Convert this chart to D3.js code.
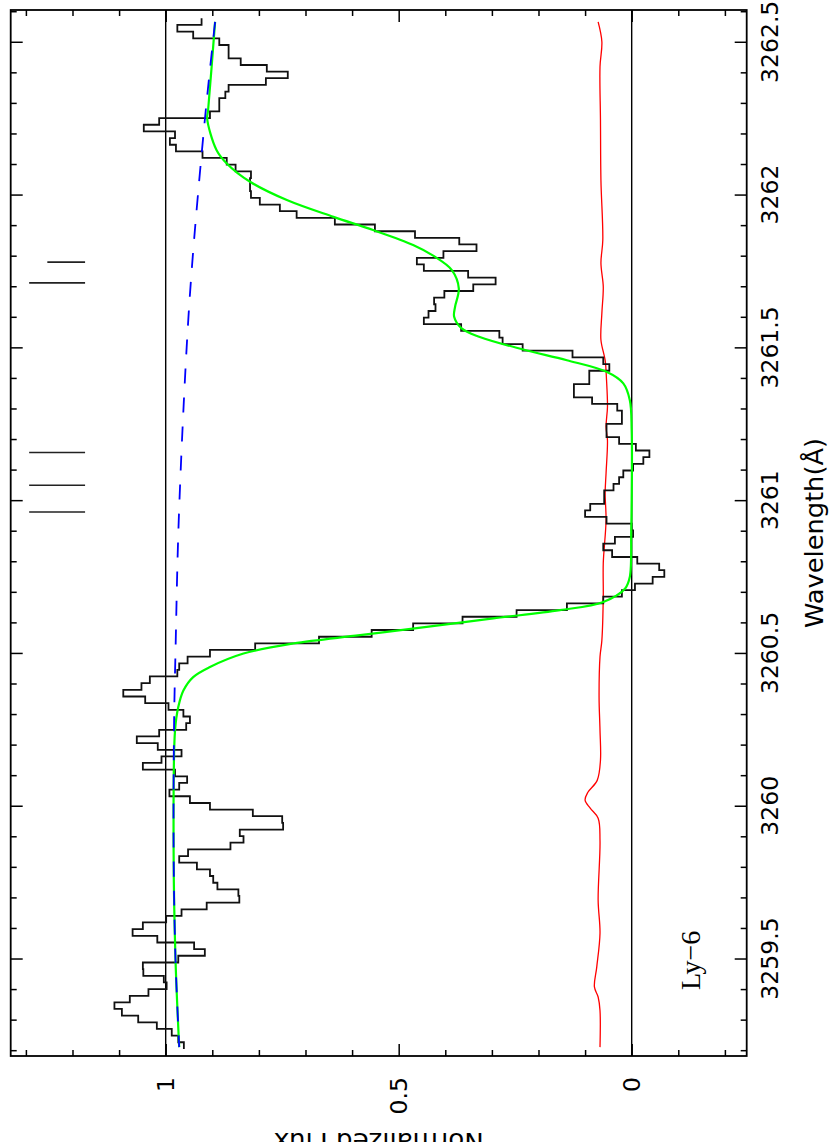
<!DOCTYPE html>
<html><head><meta charset="utf-8">
<script src="https://cdn.jsdelivr.net/npm/d3@7/dist/d3.min.js"></script>
<style>body{margin:0;background:#fff}svg{display:block}</style>
</head><body><svg id="c" width="830" height="1142"></svg>
<script>
// ---- data (wavelength in Angstrom, normalized flux) ----
const wavelength = [3262.566,3262.544,3262.522,3262.500,3262.479,3262.457,3262.435,3262.413,3262.392,3262.370,
3262.348,3262.326,3262.305,3262.283,3262.261,3262.239,3262.218,3262.196,3262.174,3262.152,
3262.131,3262.109,3262.087,3262.065,3262.043,3262.022,3262.000,3261.978,3261.956,3261.935,
3261.913,3261.891,3261.869,3261.848,3261.826,3261.804,3261.782,3261.761,3261.739,3261.717,
3261.695,3261.674,3261.652,3261.630,3261.608,3261.587,3261.565,3261.543,3261.521,3261.500,
3261.478,3261.456,3261.434,3261.413,3261.391,3261.369,3261.347,3261.326,3261.304,3261.282,
3261.260,3261.239,3261.217,3261.195,3261.173,3261.152,3261.130,3261.108,3261.086,3261.064,
3261.043,3261.021,3260.999,3260.977,3260.956,3260.934,3260.912,3260.890,3260.869,3260.847,
3260.825,3260.803,3260.782,3260.760,3260.738,3260.716,3260.695,3260.673,3260.651,3260.629,
3260.608,3260.586,3260.564,3260.542,3260.521,3260.499,3260.477,3260.455,3260.434,3260.412,
3260.390,3260.368,3260.347,3260.325,3260.303,3260.281,3260.259,3260.238,3260.216,3260.194,
3260.172,3260.151,3260.129,3260.107,3260.085,3260.064,3260.042,3260.020,3259.998,3259.977,
3259.955,3259.933,3259.911,3259.890,3259.868,3259.846,3259.824,3259.803,3259.781,3259.759,
3259.737,3259.716,3259.694,3259.672,3259.650,3259.629,3259.607,3259.585,3259.563,3259.542,
3259.520,3259.498,3259.476,3259.454,3259.433,3259.411,3259.389,3259.367,3259.346,3259.324,
3259.302,3259.280,3259.259,3259.237,3259.215];
const flux = [0.923,0.975,0.941,0.885,0.865,0.865,0.839,0.783,0.738,0.785,
0.865,0.872,0.885,0.885,0.905,1.014,1.047,0.980,0.991,0.978,
0.921,0.869,0.850,0.817,0.819,0.819,0.817,0.798,0.755,0.719,
0.637,0.551,0.465,0.370,0.333,0.404,0.461,0.446,0.351,0.292,
0.340,0.402,0.424,0.421,0.436,0.446,0.366,0.284,0.277,0.234,
0.127,0.061,0.048,0.091,0.091,0.124,0.124,0.085,0.031,0.021,
0.021,0.054,0.054,0.027,-0.009,-0.038,-0.025,-0.003,0.018,0.027,
0.039,0.059,0.059,0.089,0.100,0.054,0.000,-0.003,0.036,0.061,
0.042,-0.012,-0.059,-0.070,-0.045,-0.007,0.021,0.061,0.139,0.247,
0.363,0.469,0.558,0.671,0.808,0.905,0.953,0.971,0.975,1.034,
1.052,1.091,1.044,0.994,0.962,0.948,0.956,1.014,1.062,1.017,
0.966,1.009,1.049,0.980,0.954,0.971,0.992,0.948,0.905,0.813,
0.750,0.748,0.841,0.833,0.861,0.952,0.971,0.933,0.905,0.898,
0.889,0.844,0.842,0.912,0.966,0.999,1.049,1.071,1.018,0.939,
0.916,0.973,1.049,1.048,1.004,0.998,1.037,1.077,1.110,1.094,
1.059,1.019,0.987,0.973,0.961];

const errWave = [3262.565,3262.500,3262.418,3262.244,3262.047,3261.851,3261.776,3261.698,3261.612,3261.524,
3261.458,3261.393,3261.305,3261.240,3261.196,3261.088,3261.023,3260.934,3260.794,3260.683,
3260.541,3260.487,3260.356,3260.247,3260.149,3260.083,3260.044,3260.018,3259.992,3259.959,
3259.887,3259.691,3259.583,3259.472,3259.407,3259.374,3259.330,3259.210];
const errFlux = [0.072,0.064,0.068,0.067,0.066,0.062,0.066,0.061,0.064,0.066,
0.057,0.054,0.052,0.055,0.052,0.055,0.057,0.055,0.061,0.061,
0.064,0.068,0.070,0.068,0.067,0.074,0.094,0.100,0.089,0.072,
0.068,0.072,0.068,0.075,0.080,0.072,0.068,0.068];

const contWave = [3262.565,3262.276,3261.796,3261.500,3260.934,3260.500,3260.270,3259.850,3259.500,3259.210];
const contFlux = [0.894,0.914,0.942,0.955,0.972,0.979,0.982,0.983,0.979,0.971];

const fitWave = [3262.565,3262.276,3262.249,3262.146,3262.102,3262.042,3261.982,3261.927,3261.884,3261.835,
3261.800,3261.753,3261.693,3261.633,3261.600,3261.562,3261.534,3261.493,3261.458,3261.420,
3261.382,3261.327,3261.229,3260.999,3260.901,3260.749,3260.711,3260.667,3260.640,3260.613,
3260.585,3260.558,3260.531,3260.498,3260.454,3260.421,3260.377,3260.323,3260.246,3259.850,
3259.500,3259.210];
const fitFlux = [0.894,0.909,0.911,0.891,0.869,0.819,0.740,0.640,0.555,0.469,
0.426,0.386,0.371,0.379,0.381,0.365,0.326,0.233,0.139,0.054,
0.018,0.004,0.000,0.000,0.001,0.004,0.014,0.061,0.154,0.297,
0.440,0.583,0.726,0.833,0.905,0.941,0.962,0.973,0.980,0.983,
0.979,0.971];

const markWave = [3261.779,3261.711,3261.156,3261.049,3260.961];
const markTop = [1.254,1.293,1.293,1.293,1.293];
const markBottom = [1.173,1.173,1.173,1.173,1.173];

const fluxTickValues = [1, 0.5, 0];
const fluxTickLabels = ["1", "0.5", "0"];
const waveTickValues = [3259.5,3260,3260.5,3261,3261.5,3262,3262.5];
const waveTickLabels = ["3259.5","3260","3260.5","3261","3261.5","3262","3262.5"];
const refLevels = [1, 0];

// ---- drawing ----
const svg = d3.select("#c");
svg.append("rect").attr("width",830).attr("height",1142).attr("fill","#fff");
const L = 10.7, R = 746.7, T = 10, B = 1056;
const x = d3.scaleLinear().domain([1.3326,-0.2468]).range([L,R]);
const y = d3.scaleLinear().domain([3262.604,3259.181]).range([T,B]);
const sans = "'DejaVu Sans', 'Liberation Sans', sans-serif";

const fluxMinor = d3.range(-2,14).map(d=>d/10).filter(v=>!fluxTickValues.some(m=>Math.abs(m-v)<1e-6));
const waveMinor = d3.range(32592,32627).map(d=>d/10).filter(v=>v>=3259.19 && v<=3262.6 && !waveTickValues.some(m=>Math.abs(m-v)<1e-6));

function axisG(gen, tx, ty){
  const g = svg.append("g").attr("transform",`translate(${tx},${ty})`).call(gen);
  g.select(".domain").remove();
  g.selectAll("line").attr("stroke","#000").attr("stroke-width",1.5);
  g.selectAll("text").remove();
  return g;
}
axisG(d3.axisTop(x).tickValues(fluxMinor).tickSize(-6).tickFormat(""),0,T);
axisG(d3.axisTop(x).tickValues(fluxTickValues).tickSize(-12).tickFormat(""),0,T);
axisG(d3.axisBottom(x).tickValues(fluxMinor).tickSize(-6).tickFormat(""),0,B);
axisG(d3.axisBottom(x).tickValues(fluxTickValues).tickSize(-12).tickFormat(""),0,B);
axisG(d3.axisLeft(y).tickValues(waveMinor).tickSize(-6).tickFormat(""),L,0);
axisG(d3.axisLeft(y).tickValues(waveTickValues).tickSize(-12).tickFormat(""),L,0);
axisG(d3.axisRight(y).tickValues(waveMinor).tickSize(-6).tickFormat(""),R,0);
axisG(d3.axisRight(y).tickValues(waveTickValues).tickSize(-12).tickFormat(""),R,0);

// reference lines
svg.selectAll(".ref").data(refLevels).enter().append("line")
  .attr("x1",d=>x(d)).attr("x2",d=>x(d)).attr("y1",T).attr("y2",B)
  .attr("stroke","#000").attr("stroke-width",1.4);

// frame
svg.append("rect").attr("x",L).attr("y",T).attr("width",R-L).attr("height",B-T)
  .attr("fill","none").attr("stroke","#000").attr("stroke-width",1.8);

const line = d3.line().x(d=>x(d[1])).y(d=>y(d[0]));

// error spectrum
svg.append("path").datum(errWave.map((w,i)=>[w,errFlux[i]]))
  .attr("d",line.curve(d3.curveCatmullRom.alpha(0.5)))
  .attr("fill","none").attr("stroke","#ff0000").attr("stroke-width",1.3);

// histogram
const steps = [];
for(let i=0;i<wavelength.length;i++){
  const up = i===0 ? wavelength[0]+(wavelength[0]-wavelength[1])/2 : (wavelength[i-1]+wavelength[i])/2;
  const lo = i===wavelength.length-1 ? wavelength[i]-(wavelength[i-1]-wavelength[i])/2 : (wavelength[i]+wavelength[i+1])/2;
  steps.push([up,flux[i]],[lo,flux[i]]);
}
svg.append("path").datum(steps)
  .attr("d",d3.line().x(d=>x(d[1])).y(d=>y(d[0])))
  .attr("fill","none").attr("stroke","#111").attr("stroke-width",1.8);

// fit
svg.append("path").datum(fitWave.map((w,i)=>[w,fitFlux[i]]))
  .attr("d",d3.line().x(d=>x(d[1])).y(d=>y(d[0])).curve(d3.curveCatmullRom.alpha(0.5)))
  .attr("fill","none").attr("stroke","#00ff00").attr("stroke-width",2.2);

// continuum
svg.append("path").datum(contWave.map((w,i)=>[w,contFlux[i]]))
  .attr("d",d3.line().x(d=>x(d[1])).y(d=>y(d[0])).curve(d3.curveCatmullRom.alpha(0.5)))
  .attr("fill","none").attr("stroke","#0000ff").attr("stroke-width",1.8)
  .attr("stroke-dasharray","15,14");

// component markers
svg.selectAll(".mk").data(markWave).enter().append("line")
  .attr("x1",(d,i)=>x(markTop[i])).attr("x2",(d,i)=>x(markBottom[i]))
  .attr("y1",d=>y(d)).attr("y2",d=>y(d))
  .attr("stroke","#222").attr("stroke-width",1.6);

// tick labels
svg.selectAll(".fl").data(fluxTickValues).enter().append("text")
  .attr("x",d=>x(d)+8.5).attr("y",1077)
  .attr("transform",d=>`rotate(-90,${x(d)+8.5},1077)`)
  .attr("text-anchor","end").attr("font-family",sans).attr("font-size",23.5)
  .text((d,i)=>fluxTickLabels[i]);
svg.selectAll(".wl").data(waveTickValues).enter().append("text")
  .attr("x",778).attr("y",d=>y(d))
  .attr("transform",d=>`rotate(-90,778,${y(d)})`)
  .attr("text-anchor","middle").attr("font-family",sans).attr("font-size",23.5)
  .text((d,i)=>waveTickLabels[i]);

// axis titles
svg.append("text").attr("x",823).attr("y",533)
  .attr("transform","rotate(-90,823,533)")
  .attr("text-anchor","middle").attr("font-family",sans).attr("font-size",24)
  .attr("textLength",190).attr("lengthAdjust","spacingAndGlyphs")
  .text("Wavelength(Å)");
svg.append("text").attr("x",378.7).attr("y",1133)
  .attr("transform","rotate(180,378.7,1133)")
  .attr("text-anchor","middle").attr("font-family",sans).attr("font-size",24)
  .attr("textLength",210).attr("lengthAdjust","spacingAndGlyphs")
  .text("Normalized Flux");

// line label
svg.append("text").attr("x",700).attr("y",990)
  .attr("transform","rotate(-90,700,990)")
  .attr("text-anchor","start").attr("font-family","'Liberation Serif', 'DejaVu Serif', serif").attr("font-size",28)
  .text("Ly\u22126");
</script></body></html>
